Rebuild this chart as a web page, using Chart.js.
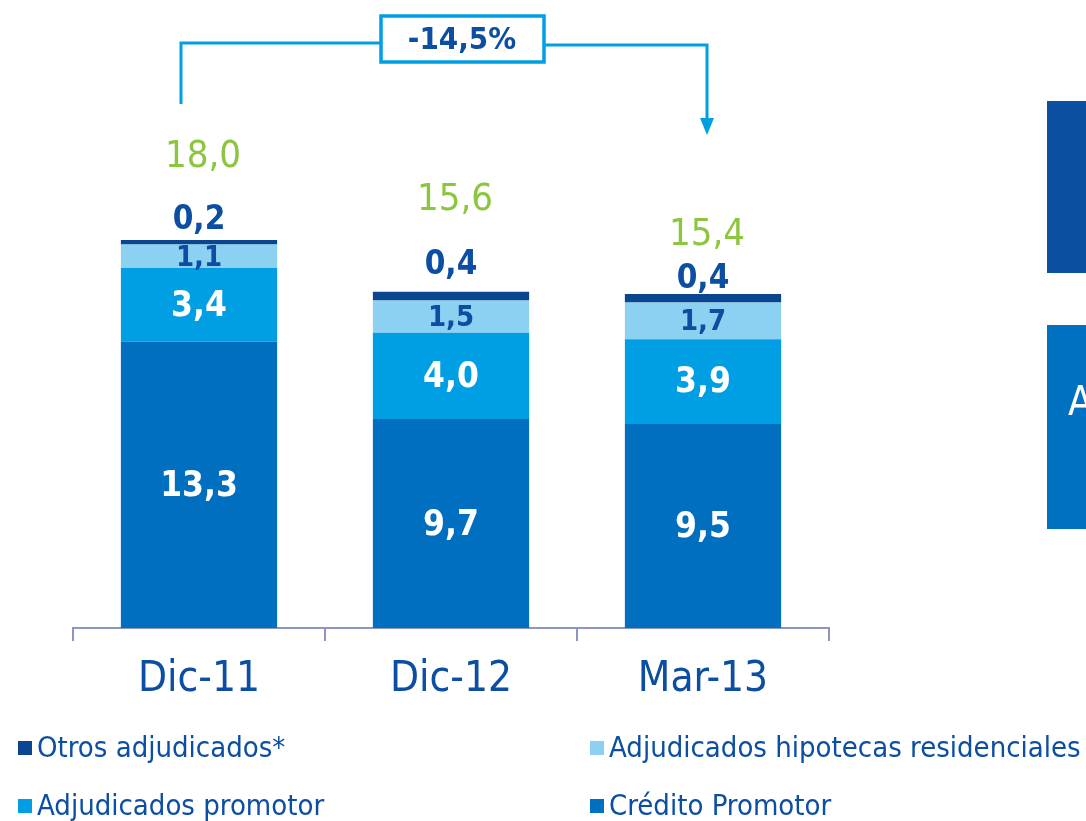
<!DOCTYPE html>
<html>
<head>
<meta charset="utf-8">
<script src="https://cdn.jsdelivr.net/npm/chart.js@4/dist/chart.umd.min.js"></script>
<style>
  html, body { margin: 0; padding: 0; background: #fff; }
  #wrap { position: relative; width: 1086px; height: 821px; }
</style>
</head>
<body>
<div id="wrap"><canvas id="riskChart" width="1086" height="821"></canvas></div>
<script>
const categories = ['Dic-11', 'Dic-12', 'Mar-13'];
const creditoPromotor = [13.3, 9.7, 9.5];
const adjPromotor = [3.4, 4.0, 3.9];
const adjHipotecas = [1.1, 1.5, 1.7];
const otrosAdj = [0.2, 0.4, 0.4];
const totals = [18.0, 15.6, 15.4];
const variationLabel = '-14,5%';

// label gaps above each bar top (px)
const otrosGap = [20, 26, 15];
const totalGap = [83, 92, 59];

const darkBlue = '#0B4EA2';
const navy = '#0A4590';
const credit = '#006FC0';
const cyan = '#009FE3';
const light = '#8CD1F1';
const green = '#8CC63F';
const axisCol = '#8B96C4';
const FONT = '"Liberation Sans Narrow", "DejaVu Sans Condensed", Roboto, sans-serif';

const fmt = v => v.toFixed(1).replace('.', ',');

const labelsPlugin = {
    id: 'barLabels',
    afterDatasetsDraw(chart) {
        const ctx = chart.ctx;
        ctx.save();
        ctx.textAlign = 'center';
        ctx.textBaseline = 'middle';
        chart.data.datasets.forEach((ds, di) => {
            const meta = chart.getDatasetMeta(di);
            meta.data.forEach((bar, i) => {
                const v = ds.data[i];
                const mid = (bar.y + bar.base) / 2;
                if (di < 2) {
                    ctx.font = 'bold 35px ' + FONT;
                    ctx.fillStyle = '#fff';
                    ctx.fillText(fmt(v), bar.x, mid + 2);
                } else if (di === 2) {
                    ctx.font = 'bold 29px ' + FONT;
                    ctx.fillStyle = darkBlue;
                    ctx.fillText(fmt(v), bar.x, mid + 2);
                } else {
                    ctx.font = 'bold 33px ' + FONT;
                    ctx.fillStyle = darkBlue;
                    ctx.fillText(fmt(v), bar.x, bar.y - otrosGap[i]);
                    ctx.font = '38px ' + FONT;
                    ctx.fillStyle = green;
                    ctx.fillText(fmt(totals[i]), bar.x + 4, bar.y - totalGap[i]);
                }
            });
        });
        ctx.restore();
    }
};

const decorPlugin = {
    id: 'decor',
    afterDraw(chart) {
        const ctx = chart.ctx;
        const top = chart.getDatasetMeta(3).data;
        const xl = top[0].x - 18;
        const xr = top[2].x + 4;
        ctx.save();

        // variation bracket
        ctx.strokeStyle = cyan;
        ctx.lineWidth = 3;
        ctx.beginPath();
        ctx.moveTo(xl, 104);
        ctx.lineTo(xl, 43);
        ctx.lineTo(380, 43);
        ctx.moveTo(545, 45);
        ctx.lineTo(xr, 45);
        ctx.lineTo(xr, 122);
        ctx.stroke();
        ctx.fillStyle = cyan;
        ctx.beginPath();
        ctx.moveTo(xr - 7, 118);
        ctx.lineTo(xr + 7, 118);
        ctx.lineTo(xr, 135);
        ctx.closePath();
        ctx.fill();
        ctx.lineWidth = 3.5;
        ctx.strokeRect(381, 16, 163, 46);
        ctx.font = 'bold 31px ' + FONT;
        ctx.fillStyle = darkBlue;
        ctx.textAlign = 'center';
        ctx.textBaseline = 'middle';
        ctx.fillText(variationLabel, 462, 41);

        // cut-off panels on the right
        ctx.fillStyle = '#0B4FA0';
        ctx.fillRect(1047, 101, 39, 172);
        ctx.fillStyle = '#0070C0';
        ctx.fillRect(1047, 325, 39, 204);
        ctx.fillStyle = '#fff';
        ctx.font = '40px ' + FONT;
        ctx.textAlign = 'left';
        ctx.fillText('A', 1068, 405);

        // legend, two columns
        const order = [3, 2, 1, 0];
        const pos = [[18, 748], [590, 748], [18, 806], [590, 806]];
        ctx.font = '29px ' + FONT;
        ctx.textBaseline = 'middle';
        order.forEach((di, k) => {
            const ds = chart.data.datasets[di];
            const [x, y] = pos[k];
            ctx.fillStyle = ds.backgroundColor;
            ctx.fillRect(x, y - 7, 14, 14);
            ctx.fillStyle = darkBlue;
            ctx.fillText(ds.label, x + 19, y + 1);
        });
        ctx.restore();
    }
};

new Chart(document.getElementById('riskChart').getContext('2d'), {
    type: 'bar',
    data: {
        labels: categories,
        datasets: [
            { label: 'Crédito Promotor', data: creditoPromotor, backgroundColor: credit },
            { label: 'Adjudicados promotor', data: adjPromotor, backgroundColor: cyan },
            { label: 'Adjudicados hipotecas residenciales', data: adjHipotecas, backgroundColor: light },
            { label: 'Otros adjudicados*', data: otrosAdj, backgroundColor: navy }
        ]
    },
    options: {
        responsive: false,
        animation: false,
        layout: { padding: { left: 73, right: 257, top: 197, bottom: 0 } },
        datasets: { bar: { categoryPercentage: 1, barPercentage: 0.62, borderWidth: 0 } },
        plugins: { legend: { display: false }, tooltip: { enabled: false } },
        scales: {
            x: {
                stacked: true,
                afterFit: s => { s.height = 193; },
                border: { display: true, color: axisCol, width: 2 },
                grid: { display: true, drawOnChartArea: false, drawTicks: true, tickLength: 13, color: axisCol, lineWidth: 2 },
                ticks: { color: darkBlue, padding: 14, font: { family: FONT, size: 42 } }
            },
            y: {
                stacked: true,
                display: false,
                min: 0,
                max: 20
            }
        }
    },
    plugins: [labelsPlugin, decorPlugin]
});
</script>
</body>
</html>
